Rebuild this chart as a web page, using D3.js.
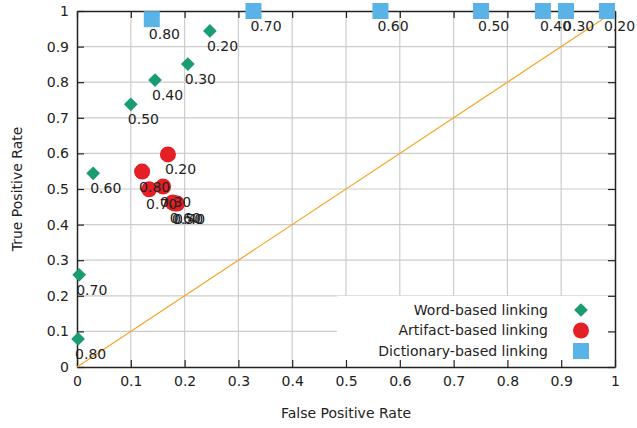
<!DOCTYPE html>
<html>
<head>
<meta charset="utf-8">
<script src="https://cdn.jsdelivr.net/npm/d3@7"></script>
<style>
body { margin: 0; background: #fff; }
text { font-family: "DejaVu Sans", sans-serif; fill: #222; }
</style>
</head>
<body>
<script>
// thresholds shown next to every point
var thresholds = ["0.20", "0.30", "0.40", "0.50", "0.60", "0.70", "0.80"];

var wordFPR = [0.247, 0.206, 0.145, 0.100, 0.030, 0.004, 0.002];
var wordTPR = [0.944, 0.851, 0.806, 0.738, 0.544, 0.259, 0.079];

var artifactFPR = [0.169, 0.160, 0.186, 0.182, 0.178, 0.134, 0.121];
var artifactTPR = [0.597, 0.507, 0.459, 0.459, 0.462, 0.499, 0.549];

var dictFPR = [0.985, 0.909, 0.866, 0.751, 0.564, 0.328, 0.139];
var dictTPR = [1.0, 1.0, 1.0, 1.0, 1.0, 1.0, 0.977];

var seriesNames = ["Word-based linking", "Artifact-based linking", "Dictionary-based linking"];
var tickValues = [0, 0.1, 0.2, 0.3, 0.4, 0.5, 0.6, 0.7, 0.8, 0.9, 1];

var W = 637, H = 428;
var pLeft = 77, pRight = 615, pTop = 11, pBottom = 367;

var svg = d3.select("body").append("svg")
	.attr("width", W)
	.attr("height", H);

var x = d3.scaleLinear().domain([0, 1]).range([pLeft, pRight]);
var y = d3.scaleLinear().domain([0, 1]).range([pBottom, pTop]);
var fmt = function (d) { return d === 0 || d === 1 ? String(d) : d3.format(".1f")(d); };

// grid
svg.append("g").selectAll("line")
	.data(tickValues.slice(1, -1))
	.enter().append("line")
	.attr("x1", function (d) { return x(d); })
	.attr("x2", function (d) { return x(d); })
	.attr("y1", pTop).attr("y2", pBottom)
	.attr("stroke", "#cccccc").attr("stroke-width", 1.2);
svg.append("g").selectAll("line")
	.data(tickValues.slice(1, -1))
	.enter().append("line")
	.attr("y1", function (d) { return y(d); })
	.attr("y2", function (d) { return y(d); })
	.attr("x1", pLeft).attr("x2", pRight)
	.attr("stroke", "#cccccc").attr("stroke-width", 1.2);

// legend box hides the grid
var legX = x(0.483), legY = y(0.2);
svg.append("rect")
	.attr("x", legX).attr("y", legY)
	.attr("width", pRight - legX).attr("height", pBottom - legY)
	.attr("fill", "#fff");

// axes, ticks pointing inward on all sides
svg.append("g").attr("transform", "translate(0," + pBottom + ")")
	.call(d3.axisBottom(x).tickValues(tickValues).tickFormat(fmt).tickSizeInner(-7).tickSizeOuter(0).tickPadding(9));
svg.append("g").attr("transform", "translate(0," + pTop + ")")
	.call(d3.axisTop(x).tickValues(tickValues).tickFormat("").tickSizeInner(-7).tickSizeOuter(0));
svg.append("g").attr("transform", "translate(" + pLeft + ",0)")
	.call(d3.axisLeft(y).tickValues(tickValues).tickFormat(fmt).tickSizeInner(-7).tickSizeOuter(0).tickPadding(8));
svg.append("g").attr("transform", "translate(" + pRight + ",0)")
	.call(d3.axisRight(y).tickValues(tickValues).tickFormat("").tickSizeInner(-7).tickSizeOuter(0));

svg.selectAll(".domain").attr("stroke", "#222").attr("stroke-width", 1.5);
svg.selectAll(".tick line").attr("stroke", "#222").attr("stroke-width", 1.2);
svg.selectAll(".tick text").style("font-size", "14px").attr("fill", "#222");

// diagonal
svg.append("line")
	.attr("x1", x(0)).attr("y1", y(0))
	.attr("x2", x(1)).attr("y2", y(1))
	.attr("stroke", "#f5a623").attr("stroke-width", 1.2);

// axis titles
svg.append("text")
	.attr("x", (pLeft + pRight) / 2).attr("y", 418)
	.attr("text-anchor", "middle")
	.style("font-size", "14px")
	.text("False Positive Rate");
svg.append("text")
	.attr("transform", "translate(22," + (pTop + pBottom) / 2 + ") rotate(-90)")
	.attr("text-anchor", "middle")
	.style("font-size", "14px")
	.text("True Positive Rate");

var colors = ["#1a9c73", "#e41f26", "#59b3e6"];

function toPoints(fpr, tpr) {
	return fpr.map(function (d, i) { return { fx: d, ty: tpr[i], label: thresholds[i] }; });
}
var word = toPoints(wordFPR, wordTPR);
var artifact = toPoints(artifactFPR, artifactTPR);
var dict = toPoints(dictFPR, dictTPR);

var diamond = d3.symbol().type(d3.symbolDiamond2).size(120);

svg.append("g").selectAll("path")
	.data(word).enter().append("path")
	.attr("d", diamond)
	.attr("transform", function (d) { return "translate(" + x(d.fx) + "," + y(d.ty) + ")"; })
	.attr("fill", colors[0]);

svg.append("g").selectAll("circle")
	.data(artifact).enter().append("circle")
	.attr("cx", function (d) { return x(d.fx); })
	.attr("cy", function (d) { return y(d.ty); })
	.attr("r", 8)
	.attr("fill", colors[1]);

svg.append("g").selectAll("rect")
	.data(dict).enter().append("rect")
	.attr("x", function (d) { return x(d.fx) - 8; })
	.attr("y", function (d) { return y(d.ty) - 8; })
	.attr("width", 16).attr("height", 16)
	.attr("fill", colors[2]);

// point labels
var allPts = word.concat(artifact, dict);
svg.append("g").selectAll("text")
	.data(allPts).enter().append("text")
	.attr("x", function (d) { return x(d.fx) - 3; })
	.attr("y", function (d) { return y(d.ty) + 20; })
	.style("font-size", "14px")
	.text(function (d) { return d.label; });

// legend
var leg = svg.append("g").selectAll("g")
	.data(seriesNames).enter().append("g")
	.attr("transform", function (d, i) { return "translate(0," + (310 + i * 20.5) + ")"; });
leg.append("text")
	.attr("x", 548).attr("dy", "0.35em")
	.attr("text-anchor", "end")
	.style("font-size", "14px")
	.text(function (d) { return d; });
leg.each(function (d, i) {
	var g = d3.select(this);
	if (i === 0) g.append("path").attr("d", diamond).attr("transform", "translate(581,0)").attr("fill", colors[0]);
	if (i === 1) g.append("circle").attr("cx", 581).attr("r", 8).attr("fill", colors[1]);
	if (i === 2) g.append("rect").attr("x", 573).attr("y", -8).attr("width", 16).attr("height", 16).attr("fill", colors[2]);
});
</script>
</body>
</html>
